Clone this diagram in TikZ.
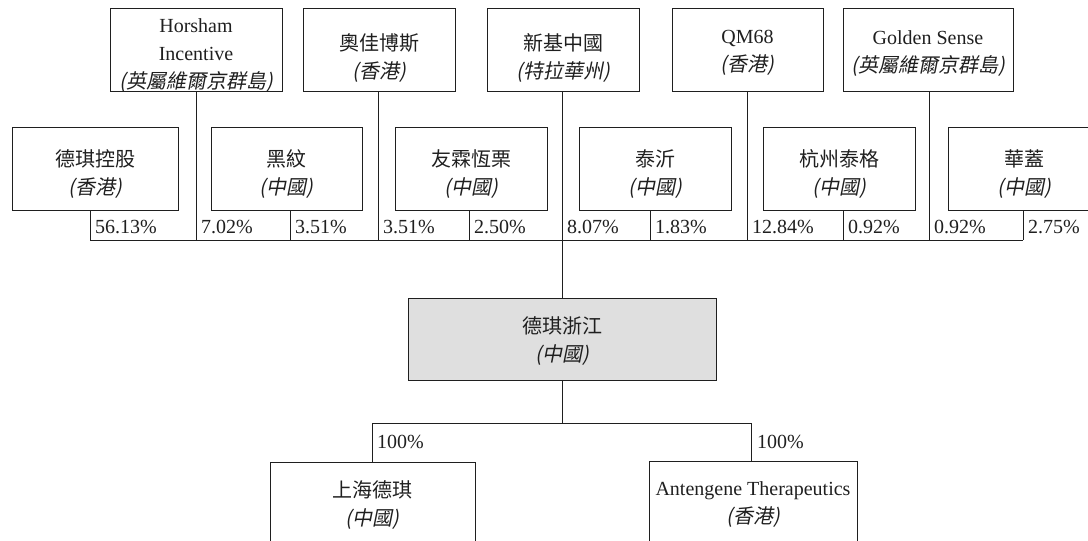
\documentclass[tikz,border=0pt]{standalone}
\usepackage{fontspec}
\setmainfont{Liberation Serif}
\newfontfamily\cjk{Noto Sans CJK TC}
\newfontfamily\cjkit{Noto Sans CJK TC}[FakeSlant=0.2]
\newcommand{\zh}[1]{{\cjk #1}}
\newcommand{\loc}[1]{{\cjkit (#1)}}
\newcommand{\lift}[1][23pt]{\rule{0pt}{#1}}

\begin{document}
\begin{tikzpicture}[x=1pt, y=-1pt, font=\fontsize{20}{28}\selectfont, color=black!88]
    \tikzstyle{every node}=[align = center]
    \tikzstyle{entity}=[draw, line width=0.8pt, inner sep=0pt, minimum height=83pt, text depth=0pt]
    \tikzstyle{pct}=[inner sep=0pt, anchor=base west]
    \tikzstyle{link}=[line width=0.8pt]
    \clip (0,0) rectangle (1088,541);
    \node[entity, minimum width=172pt] (horsham) at (196,49.5) {\lift[22pt]Horsham\\Incentive\\\loc{英屬維爾京群島}};
    \node[entity, minimum width=152pt] (aojia) at (379,49.5) {\lift[30pt]\zh{奧佳博斯}\\\loc{香港}};
    \node[entity, minimum width=152pt] (xinji) at (563,49.5) {\lift[30pt]\zh{新基中國}\\\loc{特拉華州}};
    \node[entity, minimum width=151pt] (qm) at (747.5,49.5) {\lift[16pt]QM68\\\loc{香港}};
    \node[entity, minimum width=170pt] (golden) at (928,49.5) {\lift[18pt]Golden Sense\\\loc{英屬維爾京群島}};
    \node[entity, minimum width=166pt] (dqhold) at (95,168.5) {\lift\zh{德琪控股}\\\loc{香港}};
    \node[entity, minimum width=151pt] (heiwen) at (286.5,168.5) {\lift\zh{黑紋}\\\loc{中國}};
    \node[entity, minimum width=152pt] (youlin) at (471,168.5) {\lift\zh{友霖恆栗}\\\loc{中國}};
    \node[entity, minimum width=152pt] (taiyi) at (655,168.5) {\lift\zh{泰沂}\\\loc{中國}};
    \node[entity, minimum width=152pt] (hztg) at (839,168.5) {\lift\zh{杭州泰格}\\\loc{中國}};
    \node[entity, minimum width=152pt] (huagai) at (1024,168.5) {\lift\zh{華蓋}\\\loc{中國}};
    \foreach \n/\x/\p [count=\i] in {dqhold/90/56.13, horsham/196/7.02, heiwen/290/3.51, aojia/378/3.51, youlin/469/2.50, xinji/562/8.07, taiyi/650/1.83, qm/747/12.84, hztg/843/0.92, golden/929/0.92, huagai/1023/2.75}{
        \coordinate (bus\i) at (\x,240);
        \draw[link] (\n.south -| bus\i) -- (bus\i);
        \node[pct] (pct\i) at (\x+5,233) {\p\%};
    }
    \draw[link] (bus1) -- (bus11);
    \node[entity, minimum width=308pt, minimum height=82pt, fill=gray!25] (dqzj) at (562,339) {\zh{德琪浙江}\\\loc{中國}};
    \draw[link] (bus6) -- (dqzj.north);
    \node[entity, minimum width=205pt] (shdq) at (372.5,503.5) {\zh{上海德琪}\\\loc{中國}};
    \node[entity, minimum width=208pt] (antengene) at (753,503) {Antengene Therapeutics\\\loc{香港}};
    \coordinate (forkL) at (372,423);
    \coordinate (forkR) at (751,423);
    \draw[link] (dqzj.south) -- (dqzj.south |- forkL);
    \draw[link] (shdq.north -| forkL) -- (forkL) -- (forkR) -- (antengene.north -| forkR);
    \node[pct] (pctsh) at (377,448) {100\%};
    \node[pct] (pctag) at (757,448) {100\%};
\end{tikzpicture}
\end{document}
